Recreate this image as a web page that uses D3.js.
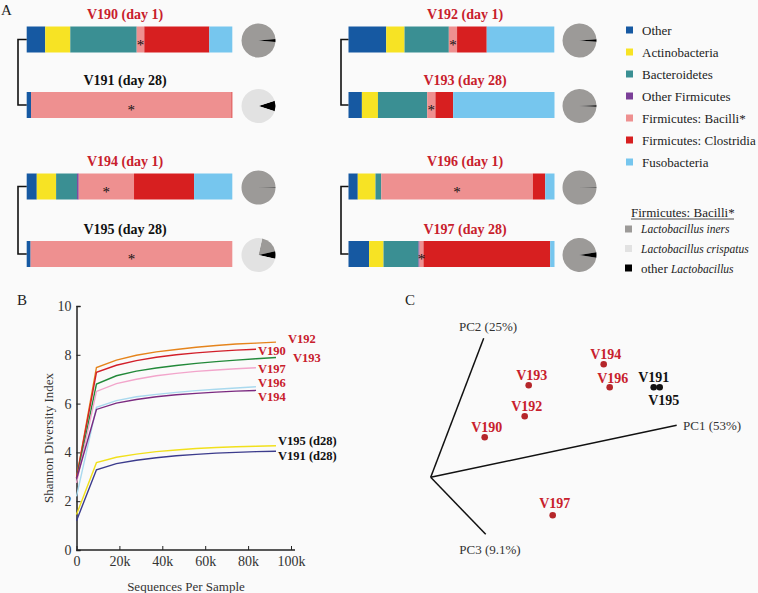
<!DOCTYPE html>
<html>
<head>
<meta charset="utf-8">
<script src="https://cdn.jsdelivr.net/npm/d3@7"></script>
<style>
  body { margin: 0; background: #fafafa; }
  svg { font-family: "Liberation Serif", "Times New Roman", serif; }
</style>
</head>
<body>
<div id="chart"></div>
<script>
// ---- data ----
var samples = ["V190", "V191", "V192", "V193", "V194", "V195", "V196", "V197"];
var sampleDays = ["day 1", "day 28", "day 1", "day 28", "day 1", "day 28", "day 1", "day 28"];
var lactoDominated = [false, true, false, false, false, true, false, false];

var taxa = ["Other", "Actinobacteria", "Bacteroidetes", "Other Firmicutes",
            "Firmicutes: Bacilli*", "Firmicutes: Clostridia", "Fusobacteria"];
var taxaColors = ["#1659a2", "#f7e324", "#3a8f93", "#7b3f98", "#ee9090", "#d71f20", "#76c6ee"];

// relative abundance per sample (order of samples)
var otherPhyla      = [0.090, 0.021, 0.183, 0.065, 0.049, 0.019, 0.045, 0.100];
var actinobacteria  = [0.122, 0.000, 0.089, 0.078, 0.094, 0.000, 0.086, 0.070];
var bacteroidetes   = [0.323, 0.000, 0.215, 0.239, 0.102, 0.000, 0.028, 0.170];
var otherFirmicutes = [0.000, 0.000, 0.000, 0.000, 0.008, 0.000, 0.000, 0.005];
var bacilli         = [0.037, 0.975, 0.040, 0.040, 0.269, 0.981, 0.736, 0.019];
var clostridia      = [0.316, 0.004, 0.144, 0.086, 0.292, 0.000, 0.060, 0.615];
var fusobacteria    = [0.112, 0.000, 0.328, 0.492, 0.186, 0.000, 0.045, 0.021];

// Bacilli breakdown (pies)
var lactoTypes = ["Lactobacillus iners", "Lactobacillus crispatus", "other Lactobacillus"];
var lactoColors = ["#9c9a98", "#e2e2e2", "#000000"];
var lactoIners     = [0.970, 0.000, 0.975, 0.985, 0.995, 0.180, 0.995, 0.950];
var lactoCrispatus = [0.000, 0.900, 0.000, 0.000, 0.000, 0.750, 0.000, 0.000];
var lactoOther     = [0.030, 0.100, 0.025, 0.015, 0.005, 0.070, 0.005, 0.050];

// panel B: rarefaction
var seqDepths = [0, 9300, 18600, 27900, 37200, 46500, 55800, 65100, 74400, 83700, 93000];
var curveLabels = ["V192", "V190", "V193", "V197", "V196", "V194", "V195 (d28)", "V191 (d28)"];
var curveColors = ["#e5841c", "#d21f2a", "#23893a", "#f2a5cb", "#a9d9ee", "#7b2a80", "#f1e01c", "#3b3b8c"];
var shannonV192 = [2.95, 7.48, 7.78, 7.98, 8.12, 8.22, 8.31, 8.38, 8.44, 8.48, 8.52];
var shannonV190 = [2.95, 7.28, 7.57, 7.76, 7.90, 8.00, 8.08, 8.14, 8.19, 8.23];
var shannonV193 = [2.85, 6.80, 7.14, 7.33, 7.46, 7.56, 7.65, 7.72, 7.78, 7.84, 7.89];
var shannonV197 = [2.75, 6.50, 6.82, 7.00, 7.14, 7.24, 7.32, 7.38, 7.43, 7.47];
var shannonV196 = [2.20, 5.85, 6.12, 6.28, 6.38, 6.46, 6.53, 6.59, 6.64, 6.69];
var shannonV194 = [2.90, 5.76, 6.02, 6.17, 6.28, 6.36, 6.42, 6.47, 6.51, 6.54];
var shannonV195 = [1.45, 3.58, 3.80, 3.93, 4.03, 4.10, 4.16, 4.20, 4.23, 4.25, 4.27];
var shannonV191 = [1.20, 3.29, 3.54, 3.68, 3.78, 3.86, 3.92, 3.97, 4.00, 4.03, 4.05];
var shannonSeries = [shannonV192, shannonV190, shannonV193, shannonV197,
                     shannonV196, shannonV194, shannonV195, shannonV191];
var yTicks = [0, 2, 4, 6, 8, 10];
var xTicks = [0, 20000, 40000, 60000, 80000, 100000];

// panel C: PCoA (projected coordinates, same order as samples)
var pcoaX = [0.54, 2.23, 0.94, 0.98, 1.73, 2.29, 1.79, 1.22];
var pcoaY = [0.40, 0.90, 0.61, 0.92, 1.13, 0.90, 0.90, -0.38];
var pcAxes = ["PC1 (53%)", "PC2 (25%)", "PC3 (9.1%)"];
var pcAxisX = [2.46, 0.53, 0.55];
var pcAxisY = [0.52, 1.39, -0.57];

// ---- drawing ----
var width = 758, height = 593;
var red = "#c8202c";

var svg = d3.select('#chart').append('svg')
  .attr('width', width)
  .attr('height', height);

svg.append('rect').attr('width', width).attr('height', height).attr('fill', '#fafafa');

// panel letters
svg.selectAll('text.panel')
  .data([["A", 1, 15], ["B", 17, 305], ["C", 405, 305]])
  .enter().append('text')
  .attr('class', 'panel')
  .attr('x', d => d[1]).attr('y', d => d[2])
  .attr('font-size', 15).attr('fill', '#222')
  .text(d => d[0]);

// ---- panel A ----
var cols = [
  {x0: 26.7, x1: 232.3, pieX: 258.5, bracketX: 18, titleX: 125},
  {x0: 348.5, x1: 554.5, pieX: 579.5, bracketX: 341, titleX: 465}
];
var rowsY = [[26.5, 92], [173.5, 241]];
var barH = 26;

var abundance = [otherPhyla, actinobacteria, bacteroidetes, otherFirmicutes, bacilli, clostridia, fusobacteria];
var rows = samples.map(function(s, i) {
  var r = {sample: s};
  taxa.forEach(function(t, k) { r[t] = abundance[k][i]; });
  return r;
});
var stacked = d3.stack().keys(taxa)(rows);

function place(i) {
  var pair = Math.floor(i / 2);
  var col = cols[pair % 2];
  var y = rowsY[Math.floor(pair / 2)][i % 2];
  return {col: col, y: y, xs: d3.scaleLinear().domain([0, 1]).range([col.x0, col.x1])};
}

var panelA = svg.append('g');
samples.forEach(function(s, i) {
  var p = place(i);
  var g = panelA.append('g');
  stacked.forEach(function(series, k) {
    var d = series[i];
    if (d[1] - d[0] <= 0) return;
    g.append('rect')
      .attr('x', p.xs(d[0]))
      .attr('y', p.y)
      .attr('width', p.xs(d[1]) - p.xs(d[0]))
      .attr('height', barH)
      .attr('fill', taxaColors[k]);
  });
  var b = stacked[4][i];
  g.append('text')
    .attr('x', p.xs((b[0] + b[1]) / 2))
    .attr('y', p.y + barH / 2 + 10)
    .attr('text-anchor', 'middle')
    .attr('font-size', 15).attr('fill', '#111')
    .text('*');

  g.append('text')
    .attr('x', p.col.titleX)
    .attr('y', p.y - 12)
    .attr('dy', '0.35em')
    .attr('text-anchor', 'middle')
    .attr('font-size', 14).attr('font-weight', 'bold')
    .attr('fill', lactoDominated[i] ? '#111' : red)
    .text(s + ' (' + sampleDays[i] + ')');

  // pie of Bacilli breakdown: iners, then other (centred on 3 o'clock), then crispatus
  var vals = [lactoIners[i], lactoOther[i], lactoCrispatus[i]];
  var fills = [lactoColors[0], lactoColors[2], lactoColors[1]];
  var start = Math.PI / 2 - lactoOther[i] * Math.PI - lactoIners[i] * 2 * Math.PI;
  var pie = d3.pie().sort(null).value(d => d)
    .startAngle(start).endAngle(start + 2 * Math.PI);
  var arc = d3.arc().innerRadius(0).outerRadius(17);
  g.append('g')
    .attr('transform', 'translate(' + p.col.pieX + ',' + (p.y + barH / 2 + 1) + ')')
    .selectAll('path')
    .data(pie(vals))
    .enter().append('path')
    .attr('d', arc)
    .attr('fill', (d, j) => fills[j]);
});

// brackets joining day 1 / day 28
[0, 2, 4, 6].forEach(function(i) {
  var a = place(i), b = place(i + 1);
  var c1 = a.y + barH / 2, c2 = b.y + barH / 2;
  panelA.append('path')
    .attr('d', 'M' + a.col.x0 + ',' + c1 + 'H' + a.col.bracketX + 'V' + c2 + 'H' + a.col.x0)
    .attr('fill', 'none').attr('stroke', '#111').attr('stroke-width', 1.6);
});

// legend
var legend = svg.append('g');
taxa.forEach(function(t, k) {
  var y = 30 + 22 * k;
  legend.append('rect').attr('x', 626).attr('y', y - 3.5).attr('width', 7).attr('height', 7)
    .attr('fill', taxaColors[k]);
  legend.append('text').attr('x', 642).attr('y', y).attr('dy', '0.35em')
    .attr('font-size', 13).attr('fill', '#222').text(t);
});
legend.append('text').attr('x', 631).attr('y', 212).attr('dy', '0.35em')
  .attr('font-size', 13).attr('fill', '#222').text('Firmicutes: Bacilli*');
legend.append('line').attr('x1', 631).attr('x2', 734).attr('y1', 219).attr('y2', 219)
  .attr('stroke', '#222').attr('stroke-width', 0.8);
lactoTypes.forEach(function(t, k) {
  var y = 229 + 19.5 * k;
  legend.append('rect').attr('x', 625).attr('y', y - 3.5).attr('width', 7).attr('height', 7)
    .attr('fill', lactoColors[k]);
  var txt = legend.append('text').attr('x', 641).attr('y', y).attr('dy', '0.35em')
    .attr('font-size', 13).attr('fill', '#222');
  if (k === 2) {
    txt.append('tspan').text('other ');
    txt.append('tspan').attr('font-style', 'italic').attr('font-size', 11.5).text('Lactobacillus');
  } else {
    txt.attr('font-style', 'italic').attr('font-size', 11.5).text(t);
  }
});

// ---- panel B ----
var x = d3.scaleLinear().domain([0, 100000]).range([76.5, 291]);
var y = d3.scaleLinear().domain([0, 10]).range([550, 306]);
var panelB = svg.append('g');

var yAxis = panelB.append('g')
  .attr('transform', 'translate(76.5,0)')
  .call(d3.axisLeft(y).tickValues(yTicks).tickSize(-4).tickPadding(5));
var xAxis = panelB.append('g')
  .attr('transform', 'translate(0,550)')
  .call(d3.axisBottom(x).tickValues(xTicks).tickSize(-4).tickPadding(6)
    .tickFormat(d => d === 0 ? '0' : (d / 1000) + 'k'));
xAxis.select('.domain').remove();
panelB.append('line').attr('x1', 76.5).attr('x2', 295).attr('y1', 550).attr('y2', 550)
  .attr('stroke', '#222').attr('stroke-width', 1.5);
[yAxis, xAxis].forEach(function(ax) {
  ax.selectAll('text').attr('font-family', '"Liberation Serif", serif').attr('font-size', 14).attr('fill', '#333');
  ax.selectAll('line').attr('stroke', '#222');
  ax.select('.domain').attr('stroke', '#222').attr('stroke-width', 1.5);
});

var line = d3.line()
  .x((d, i) => x(seqDepths[i]))
  .y(d => y(d));

panelB.selectAll('path.curve')
  .data(shannonSeries)
  .enter().append('path')
  .attr('class', 'curve')
  .attr('d', line)
  .attr('fill', 'none')
  .attr('stroke', (d, i) => curveColors[i])
  .attr('stroke-width', 1.4);

// label nudges (layout only)
var labelDx = [12, 2, 17, 2, 2, 2, 2, 2];
var labelDy = [-3, 1, 0, 1, -4, 6, -5, 4];
panelB.selectAll('text.curve-label')
  .data(shannonSeries)
  .enter().append('text')
  .attr('class', 'curve-label')
  .attr('x', (d, i) => x(seqDepths[d.length - 1]) + labelDx[i])
  .attr('y', (d, i) => y(d[d.length - 1]) + labelDy[i])
  .attr('dy', '0.35em')
  .attr('font-size', 12.5).attr('font-weight', 'bold')
  .attr('fill', (d, i) => curveLabels[i].indexOf('d28') >= 0 ? '#111' : red)
  .text((d, i) => curveLabels[i]);

panelB.append('text')
  .attr('transform', 'translate(48,438) rotate(-90)')
  .attr('text-anchor', 'middle').attr('dy', '0.35em')
  .attr('font-size', 13).attr('fill', '#333')
  .text('Shannon Diversity Index');
panelB.append('text')
  .attr('x', 186).attr('y', 586).attr('dy', '0.35em')
  .attr('text-anchor', 'middle')
  .attr('font-size', 13).attr('fill', '#333')
  .text('Sequences Per Sample');

// ---- panel C ----
var xC = d3.scaleLinear().domain([0, 1]).range([430.7, 530.7]);
var yC = d3.scaleLinear().domain([0, 1]).range([477.3, 377.3]);
var panelC = svg.append('g');

pcAxes.forEach(function(name, k) {
  panelC.append('line')
    .attr('x1', xC(0)).attr('y1', yC(0))
    .attr('x2', xC(pcAxisX[k])).attr('y2', yC(pcAxisY[k]))
    .attr('stroke', '#111').attr('stroke-width', 1.5);
});
var pcLabelPos = [[683, 425, 'start'], [488, 326, 'middle'], [490, 549, 'middle']];
pcAxes.forEach(function(name, k) {
  panelC.append('text')
    .attr('x', pcLabelPos[k][0]).attr('y', pcLabelPos[k][1]).attr('dy', '0.35em')
    .attr('text-anchor', pcLabelPos[k][2])
    .attr('font-size', 13).attr('fill', '#333')
    .text(name);
});

panelC.selectAll('circle')
  .data(samples)
  .enter().append('circle')
  .attr('cx', (d, i) => xC(pcoaX[i]))
  .attr('cy', (d, i) => yC(pcoaY[i]))
  .attr('r', 3.3)
  .attr('fill', (d, i) => lactoDominated[i] ? '#111' : '#b5262a');

var pcDx = [2, 0, 2, 3, 2, 4, 3, 2];
var pcDy = [-10, -10, -10, -10, -10, 13, -9, -12];
panelC.selectAll('text.pt')
  .data(samples)
  .enter().append('text')
  .attr('class', 'pt')
  .attr('x', (d, i) => xC(pcoaX[i]) + pcDx[i])
  .attr('y', (d, i) => yC(pcoaY[i]) + pcDy[i])
  .attr('dy', '0.35em')
  .attr('text-anchor', 'middle')
  .attr('font-size', 14).attr('font-weight', 'bold')
  .attr('fill', (d, i) => lactoDominated[i] ? '#111' : red)
  .text(d => d);
</script>
</body>
</html>
